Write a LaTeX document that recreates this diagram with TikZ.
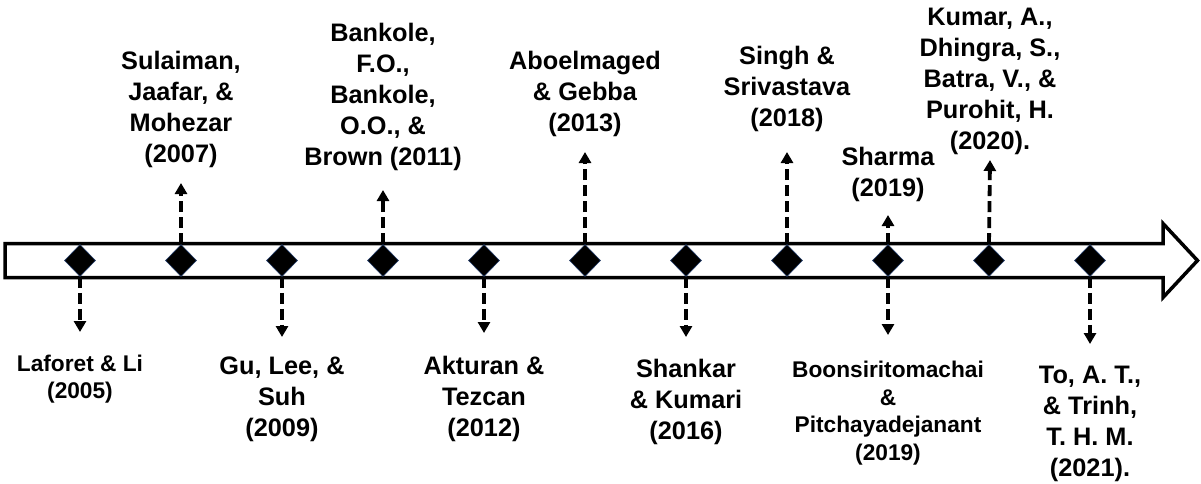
\documentclass[tikz,border=0pt]{standalone}
\usepackage{fontspec}
\setmainfont{Liberation Sans}
\usetikzlibrary{arrows.meta,shapes.geometric}
\begin{document}
\begin{tikzpicture}[x=1pt,y=-1pt,
  milestone/.style={diamond,fill=black,draw={rgb,255:red,31;green,56;blue,100},
    line width=0.6pt,minimum width=31pt,minimum height=32pt,inner sep=0pt},
  link/.style={line width=3.8pt,dash pattern=on 11pt off 5pt,
    -{Triangle[width=12pt,length=11pt]}},
  bigtext/.style={font=\fontsize{25.3}{31}\selectfont\bfseries,align=center,inner sep=0pt},
  smalltext/.style={font=\fontsize{22.7}{27.5}\selectfont\bfseries,align=center,inner sep=0pt}]
\useasboundingbox (0,0) rectangle (1201,483);

% timeline arrow
\draw[line width=3.5pt,line join=miter,fill=white]
  (5,243.5) -- (1163,243.5) -- (1163,223.5) -- (1197.5,260.5) -- (1163,297.5)
  -- (1163,277.5) -- (5,277.5) -- cycle;

% milestones
\foreach \i in {1,...,11}
  \node[milestone] (d\i) at ({80+101*(\i-1)},260.5) {};

% arrow ends
\coordinate (e1) at (80,332);
\coordinate (e2) at (181,183);
\coordinate (e3) at (282,337);
\coordinate (e4) at (383,190);
\coordinate (e5) at (484,333);
\coordinate (e6) at (585,152);
\coordinate (e7) at (686,337);
\coordinate (e8) at (787,152);
\coordinate (e9a) at (888,215);
\coordinate (e9b) at (888,335);
\coordinate (e10) at (990,160);
\coordinate (e11) at (1090,344);

\draw[link] (d1.south) -- (e1);
\draw[link] (d2.north) -- (e2);
\draw[link] (d3.south) -- (e3);
\draw[link] (d4.north) -- (e4);
\draw[link] (d5.south) -- (e5);
\draw[link] (d6.north) -- (e6);
\draw[link] (d7.south) -- (e7);
\draw[link] (d8.north) -- (e8);
\draw[link] (d9.north) -- (e9a);
\draw[link] (d9.south) -- (e9b);
\draw[link] (d10.north) -- (e10);
\draw[link] (d11.south) -- (e11);

% labels below the line
\node[smalltext,anchor=north] (l1) at (80,354.5) {Laforet \& Li\\(2005)};
\node[bigtext,anchor=north] (l3) at (282,357) {Gu, Lee, \&\\Suh\\(2009)};
\node[bigtext,anchor=north] (l5) at (484,356) {Akturan \&\\Tezcan\\(2012)};
\node[bigtext,anchor=north] (l7) at (686,359) {Shankar\\\& Kumari\\(2016)};
\node[smalltext,anchor=north] (l9b) at (888,361) {Boonsiritomachai\\\&\\Pitchayadejanant\\(2019)};
\node[bigtext,anchor=north] (l11) at (1090,366) {To, A. T.,\\\& Trinh,\\T. H. M.\\(2021).};

% labels above the line
\node[bigtext,anchor=south] (l2) at (181,168) {Sulaiman,\\Jaafar, \&\\Mohezar\\(2007)};
\node[bigtext,anchor=south] (l4) at (383,171) {Bankole,\\F.O.,\\Bankole,\\O.O., \&\\Brown (2011)};
\node[bigtext,anchor=south] (l6) at (585,137) {Aboelmaged\\\& Gebba\\(2013)};
\node[bigtext,anchor=south] (l8) at (787,132) {Singh \&\\Srivastava\\(2018)};
\node[bigtext,anchor=south] (l9a) at (888,202) {Sharma\\(2019)};
\node[bigtext,anchor=south] (l10) at (990,155) {Kumar, A.,\\Dhingra, S.,\\Batra, V., \&\\Purohit, H.\\(2020).};
\end{tikzpicture}
\end{document}
